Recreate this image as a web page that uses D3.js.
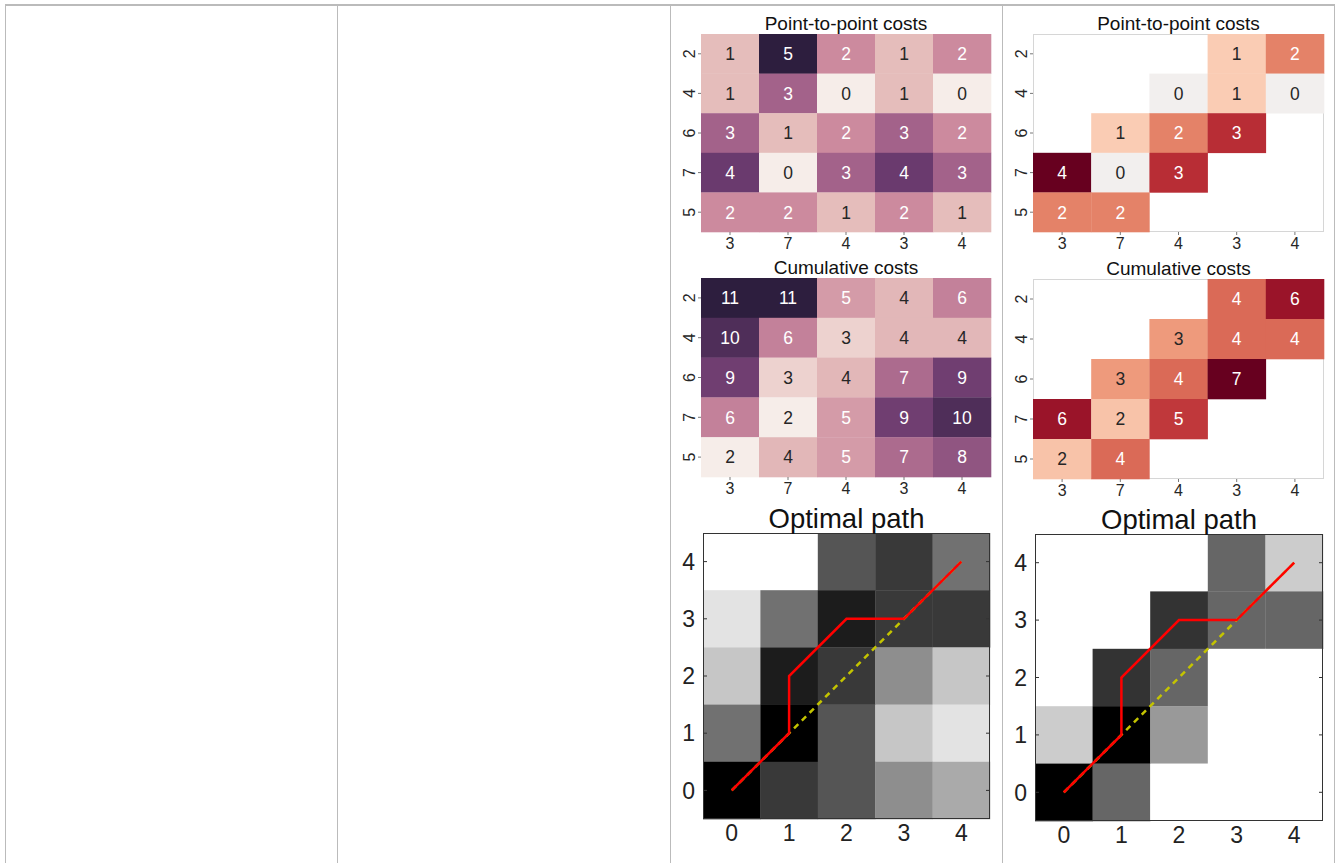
<!DOCTYPE html>
<html>
<head>
<meta charset="utf-8">
<script src="https://cdn.jsdelivr.net/npm/d3@7"></script>
<style>
  body { margin: 0; background: #fff; }
  svg { display: block; font-family: "Liberation Sans", Arial, sans-serif; }
</style>
</head>
<body>
<svg id="chart" width="1336" height="863"></svg>
<script>
// labels of the two sequences
const rowLabels = ["2", "4", "6", "7", "5"];
const colLabels = ["3", "7", "4", "3", "4"];

// full matrices (left column)
const pointCosts = [
  [1, 5, 2, 1, 2],
  [1, 3, 0, 1, 0],
  [3, 1, 2, 3, 2],
  [4, 0, 3, 4, 3],
  [2, 2, 1, 2, 1]
];
const cumCosts = [
  [11, 11, 5, 4, 6],
  [10, 6, 3, 4, 4],
  [9, 3, 4, 7, 9],
  [6, 2, 5, 9, 10],
  [2, 4, 5, 7, 8]
];

// band limited matrices (right column), null = outside window
const pointCostsBand = [
  [null, null, null, 1, 2],
  [null, null, 0, 1, 0],
  [null, 1, 2, 3, null],
  [4, 0, 3, null, null],
  [2, 2, null, null, null]
];
const cumCostsBand = [
  [null, null, null, 4, 6],
  [null, null, 3, 4, 4],
  [null, 3, 4, 7, null],
  [6, 2, 5, null, null],
  [2, 4, null, null, null]
];

// warping path and diagonal
const pathX = [0, 1, 1, 2, 3, 4];
const pathY = [0, 1, 2, 3, 3, 4];
const diagX = [0, 4];
const diagY = [0, 4];
const gridTicks = [0, 1, 2, 3, 4];

const svg = d3.select("#chart");

// table borders
const colEdges = [5, 337, 670, 1002, 1334];
svg.append("line")
  .attr("x1", 5).attr("x2", 1335).attr("y1", 5).attr("y2", 5)
  .attr("stroke", "#bbb").attr("stroke-width", 2);
colEdges.forEach(x => {
  svg.append("line")
    .attr("x1", x + 0.5).attr("x2", x + 0.5).attr("y1", 4).attr("y2", 863)
    .attr("stroke", "#bbb").attr("stroke-width", 1);
});

// seaborn-like cubehelix colour map
const cubeStops = ["#f6ede9", "#e5bdbb", "#cc8a9e", "#a3628a", "#6a3a6e", "#2d1e3e"];
const cubeInterp = d3.piecewise(d3.interpolateRgb, cubeStops);

function luminance(c) {
  const rgb = d3.rgb(c);
  const lin = v => {
    v = v / 255;
    return v <= 0.03928 ? v / 12.92 : Math.pow((v + 0.055) / 1.055, 2.4);
  };
  return 0.2126 * lin(rgb.r) + 0.7152 * lin(rgb.g) + 0.0722 * lin(rgb.b);
}

function drawHeatmap(box, matrix, colorFn, title) {
  const g = svg.append("g");
  const x = d3.scaleBand().domain(d3.range(colLabels.length)).range([box.x, box.x + box.w]);
  const y = d3.scaleBand().domain(d3.range(rowLabels.length)).range([box.y, box.y + box.h]);

  g.append("rect")
    .attr("x", box.x + 0.5).attr("y", box.y + 0.5)
    .attr("width", box.w - 1).attr("height", box.h - 1)
    .attr("fill", "#fff").attr("stroke", "#d6d6d6");

  const cells = [];
  matrix.forEach((row, r) => row.forEach((v, c) => {
    if (v !== null) cells.push({ r, c, v });
  }));

  g.selectAll(".cell").data(cells).enter().append("rect")
    .attr("x", d => x(d.c)).attr("y", d => y(d.r))
    .attr("width", x.bandwidth() + 0.3).attr("height", y.bandwidth() + 0.3)
    .attr("fill", d => colorFn(d.v));

  g.selectAll(".ann").data(cells).enter().append("text")
    .attr("x", d => x(d.c) + x.bandwidth() / 2)
    .attr("y", d => y(d.r) + y.bandwidth() / 2)
    .attr("dy", "0.36em")
    .attr("text-anchor", "middle")
    .attr("font-size", 17.5)
    .attr("fill", d => luminance(colorFn(d.v)) < 0.408 ? "#fff" : "#262626")
    .text(d => d.v);

  // ticks
  colLabels.forEach((lab, i) => {
    const cx = x(i) + x.bandwidth() / 2;
    g.append("line").attr("x1", cx).attr("x2", cx)
      .attr("y1", box.y + box.h).attr("y2", box.y + box.h + 3)
      .attr("stroke", "#555").attr("stroke-width", 0.8);
    g.append("text").attr("x", cx).attr("y", box.y + box.h + 17)
      .attr("text-anchor", "middle").attr("font-size", 16).attr("fill", "#262626")
      .text(lab);
  });
  rowLabels.forEach((lab, i) => {
    const cy = y(i) + y.bandwidth() / 2;
    g.append("line").attr("x1", box.x - 3).attr("x2", box.x)
      .attr("y1", cy).attr("y2", cy)
      .attr("stroke", "#555").attr("stroke-width", 0.8);
    g.append("text")
      .attr("transform", `translate(${box.x - 12},${cy}) rotate(-90)`)
      .attr("dy", "0.36em")
      .attr("text-anchor", "middle").attr("font-size", 16).attr("fill", "#262626")
      .text(lab);
  });

  g.append("text")
    .attr("x", box.x + box.w / 2).attr("y", box.y - 4)
    .attr("text-anchor", "middle").attr("font-size", 19).attr("fill", "#111")
    .text(title);
}

function drawPath(box, matrix, title) {
  const g = svg.append("g");
  const x = d3.scaleLinear().domain([-0.5, 4.5]).range([box.x, box.x + box.w]);
  const y = d3.scaleLinear().domain([-0.5, 4.5]).range([box.y + box.h, box.y]);
  const vals = matrix.flat().filter(v => v !== null);
  const gray = d3.scaleLinear().domain(d3.extent(vals)).range([0, 255]);
  const n = matrix.length;

  g.append("rect")
    .attr("x", box.x).attr("y", box.y).attr("width", box.w).attr("height", box.h)
    .attr("fill", "#fff");

  const cells = [];
  matrix.forEach((row, r) => row.forEach((v, c) => {
    cells.push({ gx: c, gy: n - 1 - r, v });
  }));
  g.selectAll(".px").data(cells).enter().append("rect")
    .attr("x", d => x(d.gx - 0.5)).attr("y", d => y(d.gy + 0.5))
    .attr("width", x(1) - x(0) + 0.3).attr("height", y(0) - y(1) + 0.3)
    .attr("fill", d => {
      if (d.v === null) return "#fff";
      const k = Math.round(gray(d.v));
      return d3.rgb(k, k, k);
    });

  const line = d3.line().x(d => x(d[0])).y(d => y(d[1]));
  g.append("path")
    .datum(d3.zip(diagX, diagY))
    .attr("d", line).attr("fill", "none")
    .attr("stroke", "#c4c400").attr("stroke-width", 2.5)
    .attr("stroke-dasharray", "6,5");
  g.append("path")
    .datum(d3.zip(pathX, pathY))
    .attr("d", line).attr("fill", "none")
    .attr("stroke", "#ff0000").attr("stroke-width", 2.5)
    .attr("stroke-linejoin", "miter");

  g.append("rect")
    .attr("x", box.x + 0.5).attr("y", box.y + 0.5)
    .attr("width", box.w - 1).attr("height", box.h - 1)
    .attr("fill", "none").attr("stroke", "#333").attr("stroke-width", 1);

  gridTicks.forEach(t => {
    g.append("line").attr("x1", box.x).attr("x2", box.x + 4)
      .attr("y1", y(t)).attr("y2", y(t)).attr("stroke", "#333");
    g.append("line").attr("x1", box.x + box.w - 4).attr("x2", box.x + box.w)
      .attr("y1", y(t)).attr("y2", y(t)).attr("stroke", "#333");
    g.append("text").attr("x", x(t)).attr("y", box.y + box.h + 22)
      .attr("text-anchor", "middle").attr("font-size", 23).attr("fill", "#222")
      .text(t);
    g.append("text").attr("x", box.x - 8).attr("y", y(t)).attr("dy", "0.36em")
      .attr("text-anchor", "end").attr("font-size", 23).attr("fill", "#222")
      .text(t);
  });

  g.append("text")
    .attr("x", box.x + box.w / 2).attr("y", box.y - 5)
    .attr("text-anchor", "middle").attr("font-size", 27.5).attr("fill", "#111")
    .text(title);
}

// left column: full cost matrices
const cubeScale = (lo, hi) => v => cubeInterp((v - lo) / (hi - lo));
drawHeatmap({ x: 701, y: 34, w: 290, h: 198 }, pointCosts,
  cubeScale(d3.min(pointCosts.flat()), d3.max(pointCosts.flat())), "Point-to-point costs");
drawHeatmap({ x: 701, y: 278, w: 290, h: 199 }, cumCosts,
  cubeScale(d3.min(cumCosts.flat()), d3.max(cumCosts.flat())), "Cumulative costs");
drawPath({ x: 703, y: 533, w: 287, h: 286 }, cumCosts, "Optimal path");

// right column: band limited, diverging reds centred on zero
const rdScale = matrix => {
  const m = d3.max(matrix.flat().filter(v => v !== null));
  return v => d3.interpolateRdBu(0.5 - v / (2 * m));
};
drawHeatmap({ x: 1033, y: 34, w: 291, h: 198 }, pointCostsBand, rdScale(pointCostsBand), "Point-to-point costs");
drawHeatmap({ x: 1033, y: 279, w: 291, h: 200 }, cumCostsBand, rdScale(cumCostsBand), "Cumulative costs");
drawPath({ x: 1035, y: 534, w: 288, h: 287 }, cumCostsBand, "Optimal path");
</script>
</body>
</html>
